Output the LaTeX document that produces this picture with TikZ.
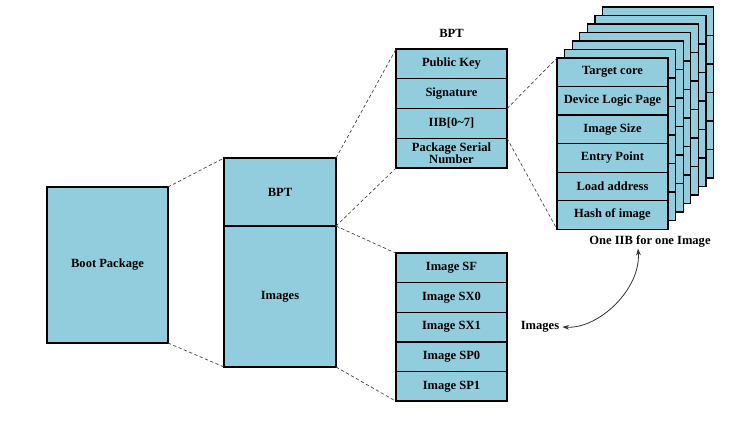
\documentclass[tikz,border=0pt]{standalone}
\usepackage{fontspec}
\setmainfont{Liberation Serif}
\usetikzlibrary{positioning,arrows.meta}

\definecolor{cellblue}{RGB}{146,205,221}

\tikzset{every picture/.style={line width=0.75pt}}
\tikzset{
	lbl/.style={font=\fontsize{9.4}{10.5}\selectfont\bfseries, inner sep=2pt},
	bigbox/.style={draw, fill=cellblue, line width=2.2pt, outer sep=0pt, lbl},
	cell/.style={draw, fill=cellblue, line width=0.9pt, outer sep=0pt, minimum width=83.25pt, align=center, lbl},
	bptcell/.style={cell, minimum height=22.3pt},
	imgcell/.style={cell, minimum height=22.2pt},
	iibcell/.style={cell, minimum height=21.4pt},
	card/.style={draw, fill=cellblue, line width=0.9pt},
	zoomline/.style={black!75, line width=0.5pt, dash pattern=on 2.5pt off 1.8pt}}

\begin{document}
\begin{tikzpicture}[x=0.75pt,y=0.75pt,yscale=-1,xscale=1]
	\useasboundingbox (0,0) rectangle (739,425);

	%Shape: Rectangle [id:boot]
	\node [bigbox, minimum width=90.75pt, minimum height=117pt] (boot) at (107.5,265) {Boot Package};
	%Shape: Rectangle [id:bptpart]
	\node [bigbox, minimum width=84pt, minimum height=51pt] (bptpart) at (280,192) {BPT};
	%Shape: Rectangle [id:imgpart]
	\node [bigbox, minimum width=84pt, minimum height=105.75pt, below=0pt of bptpart] (imgpart) {Images};

	% Text Node
	\node [lbl] (bpttitle) at (451.5,33) {BPT};
	%Shape: Table [id:bpt]
	\node [bptcell] (pk) at (451.5,64) {Public Key};
	\node [bptcell, below=0pt of pk] (sig) {Signature};
	\node [bptcell, below=0pt of sig] (iib) {IIB[0\textasciitilde7]};
	\node [bptcell, below=0pt of iib] (psn) {Package Serial\\[-1.5pt]Number};
	\draw [line width=1.5pt] (pk.north west) rectangle (psn.south east);

	%Shape: Table [id:images]
	\node [imgcell] (isf) at (451.5,268) {Image SF};
	\node [imgcell, below=0pt of isf] (isx0) {Image SX0};
	\node [imgcell, below=0pt of isx0] (isx1) {Image SX1};
	\node [imgcell, below=0pt of isx1] (isp0) {Image SP0};
	\node [imgcell, below=0pt of isp0] (isp1) {Image SP1};
	\draw [line width=1.5pt] (isf.north west) rectangle (isp1.south east);

	%Shape: Stacked cards behind [id:iibstack]
	\foreach \k in {6,...,1} {
		\draw [card] ({557+7.6*\k},{58-8.5*\k}) rectangle ({668+7.6*\k},{229-8.5*\k});
		\foreach \r in {1,...,5}
			\draw [line width=0.9pt] ({557+7.6*\k},{58-8.5*\k+28.5*\r}) -- ++(111,0);
	}
	%Shape: Table [id:iibfront]
	\node [iibcell] (tc) at (612.5,72.25) {Target core};
	\node [iibcell, below=0pt of tc] (dlp) {Device Logic Page};
	\node [iibcell, below=0pt of dlp] (isz) {Image Size};
	\node [iibcell, below=0pt of isz] (ep) {Entry Point};
	\node [iibcell, below=0pt of ep] (la) {Load address};
	\node [iibcell, below=0pt of la] (hoi) {Hash of image};

	% Text Node
	\node [lbl] (iiblbl) at (650,241) {One IIB for one Image};
	% Text Node
	\node [lbl] (imglbl) at (540,327) {Images};

	%Straight Lines [id:zoom]
	\draw [zoomline] (boot.north east) -- (bptpart.north west);
	\draw [zoomline] (boot.south east) -- (imgpart.south west);
	\draw [zoomline] (bptpart.north east) -- (pk.north west);
	\draw [zoomline] (bptpart.south east) -- (psn.south west);
	\draw [zoomline] (imgpart.north east) -- (isf.north west);
	\draw [zoomline] (imgpart.south east) -- (isp1.south west);
	\draw [zoomline] (sig.south east) -- (tc.north west);
	\draw [zoomline] (iib.south east) -- (hoi.south west);

	%Curve Lines [id:link]
	\draw [black!80, line width=0.6pt, {Stealth[length=5pt,width=3.5pt]}-{Stealth[length=5pt,width=3.5pt]}] ([xshift=-9pt,yshift=-1pt]iiblbl.south) .. controls +(3,40) and +(37,2) .. (imglbl.east);

\end{tikzpicture}
\end{document}
